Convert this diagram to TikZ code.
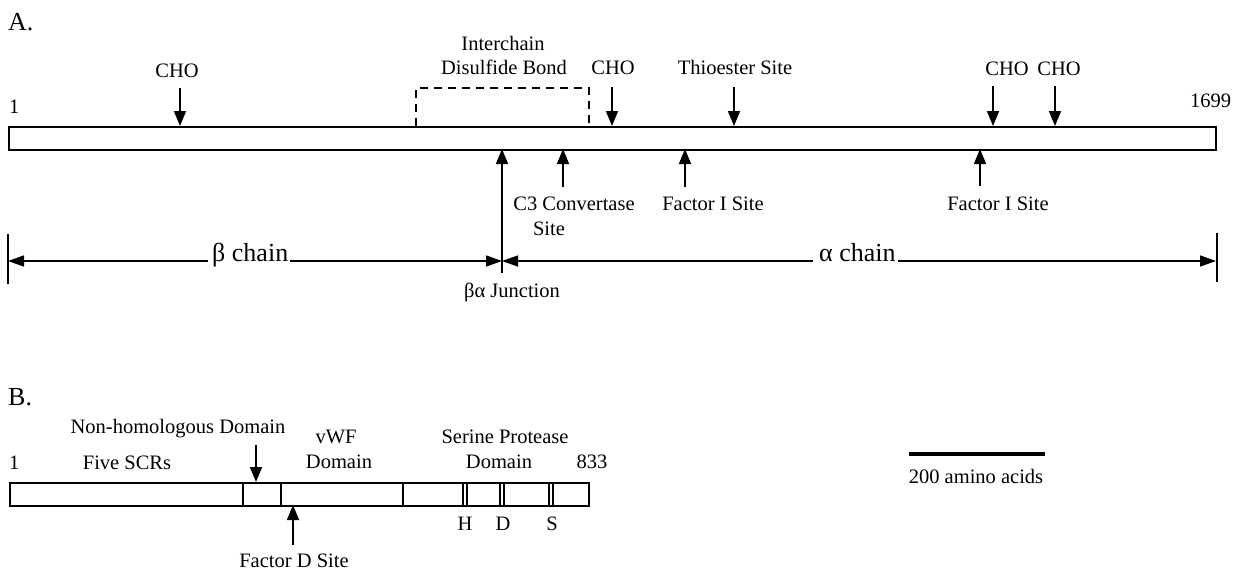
\documentclass[tikz,border=0pt]{standalone}
\usepackage{fontspec}
\setmainfont{Liberation Serif}
\usetikzlibrary{arrows.meta}
\newcommand{\fsN}{\fontsize{20.5}{24}\selectfont}
\newcommand{\fsH}{\fontsize{26}{30}\selectfont}
\newcommand{\fsC}{\fontsize{26}{30}\selectfont}
\tikzset{
  lbl/.style={font=\fsN, inner sep=0pt, anchor=base},
  head/.style={font=\fsH, inner sep=0pt, anchor=base west},
  chainlbl/.style={font=\fsC, inner sep=0pt, anchor=base west},
  bar/.style={draw=black, line width=1.8pt},
  site/.style={line width=1.6pt, -{Triangle[length=15pt,width=12pt]}},
  span/.style={line width=1.4pt, -{Triangle[length=16pt,width=11pt]}},
  thin/.style={line width=1.8pt},
}
\begin{document}
\begin{tikzpicture}[x=1pt,y=-1pt]
\useasboundingbox (0,0) rectangle (1245,571);
\fill[white] (0,0) rectangle (1245,571);

% ---------------- Panel A ----------------
\node[head] (hA) at (8,30) {A.};
\node[bar, minimum width=1207pt, minimum height=23pt, inner sep=0pt, anchor=north west] (barA) at (8,126) {};
\node[lbl, anchor=base west] (n1) at (9,113) {1};
\node[lbl, anchor=base west] (n1699) at (1190,107) {1699};

% top labels
\node[lbl] (cho1) at (177,77) {CHO};
\node[lbl] (inter1) at (503,50) {Interchain};
\node[lbl] (inter2) at (504,74) {Disulfide Bond};
\node[lbl] (cho2) at (613,74) {CHO};
\node[lbl] (thio) at (735,74) {Thioester Site};
\node[lbl] (cho3) at (1007,75) {CHO};
\node[lbl] (cho4) at (1059,75) {CHO};

% arrow tails / tips on the bar top
\coordinate (t1) at (180,88);   \coordinate (p1) at (180,126);
\coordinate (t2) at (612,87);   \coordinate (p2) at (612,126);
\coordinate (t3) at (734,87);   \coordinate (p3) at (734,126);
\coordinate (t4) at (993,86);   \coordinate (p4) at (993,126);
\coordinate (t5) at (1055,86);  \coordinate (p5) at (1055,126);
\draw[site] (t1) -- (p1);
\draw[site] (t2) -- (p2);
\draw[site] (t3) -- (p3);
\draw[site] (t4) -- (p4);
\draw[site] (t5) -- (p5);

% disulfide dashed bracket
\coordinate (dsA) at (416,126);
\coordinate (dsB) at (416,88);
\coordinate (dsC) at (589,88);
\coordinate (dsD) at (589,126);
\draw[line width=1.5pt, dash pattern=on 8pt off 6pt] (dsA) -- (dsB) -- (dsC) -- (dsD);

% bottom sites
\coordinate (bj0) at (502,273); \coordinate (bj1) at (502,149);
\coordinate (bc0) at (563,187); \coordinate (bc1) at (563,149);
\coordinate (bf0) at (685,187); \coordinate (bf1) at (685,149);
\coordinate (bg0) at (980,186); \coordinate (bg1) at (980,149);
\draw[site] (bj0) -- (bj1);
\draw[site] (bc0) -- (bc1);
\draw[site] (bf0) -- (bf1);
\draw[site] (bg0) -- (bg1);

\node[lbl] (c3a) at (574,210) {C3 Convertase};
\node[lbl] (c3b) at (549,235) {Site};
\node[lbl] (fi1) at (713,210) {Factor I Site};
\node[lbl] (fi2) at (998,210) {Factor I Site};

% chain spans
\coordinate (lv0) at (8,234);   \coordinate (lv1) at (8,284);
\coordinate (rv0) at (1217,233); \coordinate (rv1) at (1217,282);
\draw[thin] (lv0) -- (lv1);
\draw[thin] (rv0) -- (rv1);
\coordinate (lend) at (8,261);
\coordinate (rend) at (1216,261);
\coordinate (jn) at (502,261);
\node[chainlbl] (beta) at (212,261) {β chain};
\node[chainlbl] (alpha) at (819,261) {α chain};
\draw[span] (beta.base west) ++(-4,0) -- (lend);
\draw[span] (beta.base east) ++(2,0) -- (jn);
\draw[span] (alpha.base west) ++(-6,0) -- (jn);
\draw[span] (alpha.base east) ++(2,0) -- (rend);
\node[lbl] (junc) at (512,297) {βα Junction};

% ---------------- Panel B ----------------
\node[head] (hB) at (8,405) {B.};
\node[bar, minimum width=579pt, minimum height=23pt, inner sep=0pt, anchor=north west] (barB) at (9,482) {};
\coordinate (d1a) at (243,482); \coordinate (d1b) at (243,505);
\coordinate (d2a) at (281,482); \coordinate (d2b) at (281,505);
\coordinate (d3a) at (403,482); \coordinate (d3b) at (403,505);
\draw[thin] (d1a) -- (d1b);
\draw[thin] (d2a) -- (d2b);
\draw[thin] (d3a) -- (d3b);
\foreach \xx in {463,467,500,504,549,553} {
  \draw[line width=1.4pt] (\xx,482) -- (\xx,505);
}

\node[lbl] (nh) at (178,433) {Non-homologous Domain};
\node[lbl, anchor=base west] (b1) at (9,469) {1};
\node[lbl] (scr) at (127,469) {Five SCRs};
\node[lbl] (vwf1) at (336,443) {vWF};
\node[lbl] (vwf2) at (339,468) {Domain};
\node[lbl] (sp1) at (505,443) {Serine Protease};
\node[lbl] (sp2) at (499,468) {Domain};
\node[lbl] (n833) at (592,468) {833};
\node[lbl] (H) at (465,530) {H};
\node[lbl] (D) at (503,530) {D};
\node[lbl] (S) at (552,530) {S};

\coordinate (nh0) at (256,445); \coordinate (nh1) at (256,482);
\draw[site] (nh0) -- (nh1);
\coordinate (fd0) at (293,545); \coordinate (fd1) at (293,505);
\draw[site] (fd0) -- (fd1);
\node[lbl] (fd) at (294,567) {Factor D Site};

% scale bar
\coordinate (sb0) at (909,454); \coordinate (sb1) at (1045,454);
\draw[line width=3.5pt] (sb0) -- (sb1);
\node[lbl] (sbt) at (976,483) {200 amino acids};
\end{tikzpicture}
\end{document}
